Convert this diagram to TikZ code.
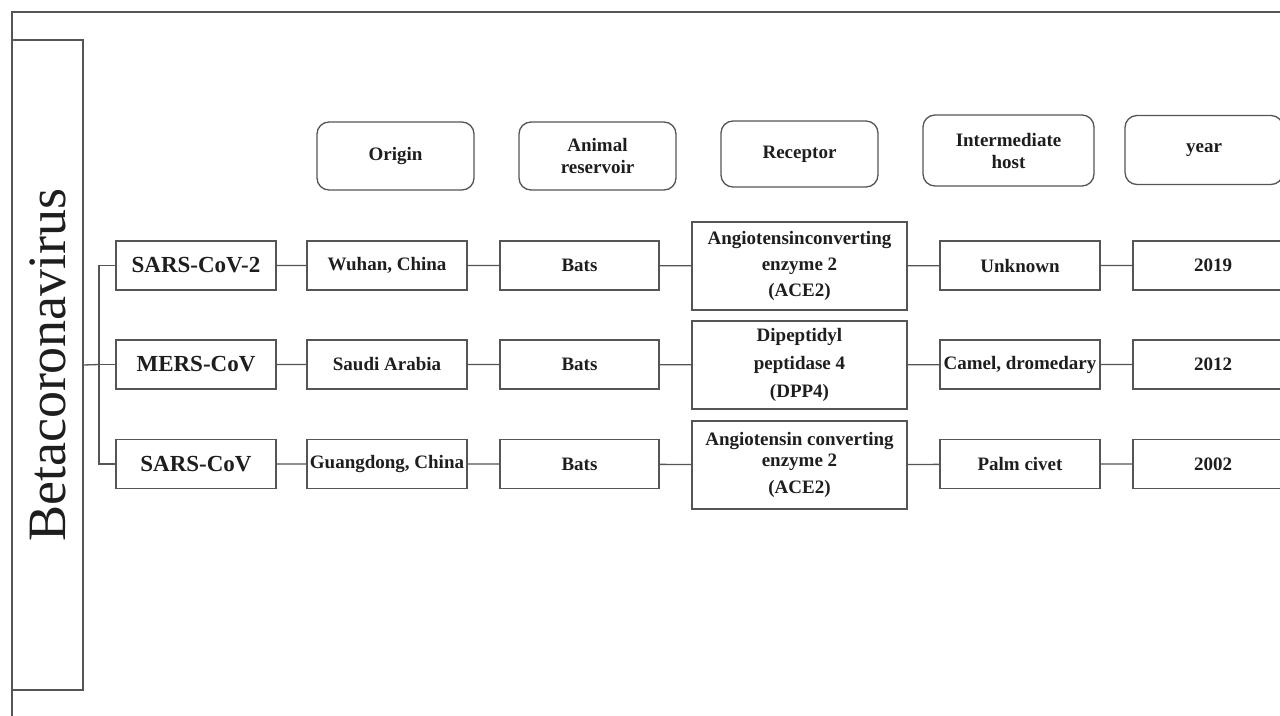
\documentclass[tikz,border=0pt]{standalone}
\usepackage{fontspec}
\setmainfont{Liberation Serif}
\usetikzlibrary{positioning}

\definecolor{linegray}{HTML}{555555}
\definecolor{textgray}{HTML}{1E1E1E}

\tikzset{
  hdr/.style={draw=linegray, line width=1.3pt, rounded corners=12pt, minimum width=157pt, minimum height=68pt,
    inner sep=2pt, align=center, text=textgray, font=\fontsize{19}{22}\selectfont\bfseries},
  cell/.style={draw=linegray, line width=1.3pt, minimum width=160pt, minimum height=49pt,
    inner sep=1pt, align=center, text=textgray, font=\fontsize{19}{21}\selectfont\bfseries},
  virus/.style={cell, font=\fontsize{23}{26}\selectfont\bfseries},
  recbox/.style={cell, minimum width=215pt, minimum height=88pt},
  link/.style={draw=linegray, line width=1.3pt},
}

\begin{document}
\begin{tikzpicture}[x=1pt, y=-1pt]
    \useasboundingbox (0,0) rectangle (1280,715);
    \clip (0,0) rectangle (1280,715);
    \fill[white] (0,0) rectangle (1280,715);
    \draw[link] (1290,12) -- (12,12) -- (12,720);

    % side label
    \node [draw=linegray, line width=1.3pt, minimum width=71pt, minimum height=650pt, inner sep=0pt, text=textgray,
      font=\fontsize{54}{58}\selectfont] (beta) at (47.5,365) {\rotatebox{90}{Betacoronavirus}};

    % headers
    \node [hdr] (hOrigin) at (395.5,156) {Origin};
    \node [hdr] (hReservoir) at (597.5,156) {Animal\\reservoir};
    \node [hdr, minimum height=66pt] (hReceptor) at (799.5,154) {Receptor};
    \node [hdr, minimum width=171pt, minimum height=71pt] (hHost) at (1008.5,150.5) {Intermediate\\host};
    \node [hdr, minimum width=158pt, minimum height=69pt] (hYear) at (1204,150) {year};

    % SARS-CoV-2
    \node [virus] (v1) at (196,265.5) {SARS-CoV-2};
    \node [cell] (o1) at (387,265.5) {Wuhan, China};
    \node [cell, minimum width=159pt] (b1) at (579.5,265.5) {Bats};
    \node [recbox] (r1) at (799.5,266) {Angiotensinconverting\\[5pt]enzyme 2\\[5pt](ACE2)};
    \node [cell] (h1) at (1020,265.5) {Unknown};
    \node [cell] (y1) at (1213,265.5) {2019};

    % MERS-CoV
    \node [virus] (v2) at (196,364.5) {MERS-CoV};
    \node [cell] (o2) at (387,364.5) {Saudi Arabia};
    \node [cell, minimum width=159pt] (b2) at (579.5,364.5) {Bats};
    \node [recbox] (r2) at (799.5,365) {Dipeptidyl\\[7pt]peptidase 4\\[7pt](DPP4)};
    \node [cell] (h2) at (1020,364.5) {Camel, dromedary};
    \node [cell] (y2) at (1213,364.5) {2012};

    % SARS-CoV
    \node [virus] (v3) at (196,464) {SARS-CoV};
    \node [cell] (o3) at (387,464) {Guangdong, China};
    \node [cell, minimum width=159pt] (b3) at (579.5,464) {Bats};
    \node [recbox] (r3) at (799.5,465) {Angiotensin converting\\enzyme 2\\[6pt](ACE2)};
    \node [cell] (h3) at (1020,464) {Palm civet};
    \node [cell] (y3) at (1213,464) {2002};

    % bracket
    \coordinate (fork) at (99,364.5);
    \draw [link] (beta.east) -- (fork);
    \draw [link] (v1.west) -| (fork) |- (v3.west);
    \draw [link] (fork) -- (v2.west);

    \foreach \i in {1,2,3}
        \draw [link] (v\i) -- (o\i) -- (b\i) -- (r\i) -- (h\i) -- (y\i);
\end{tikzpicture}
\end{document}
